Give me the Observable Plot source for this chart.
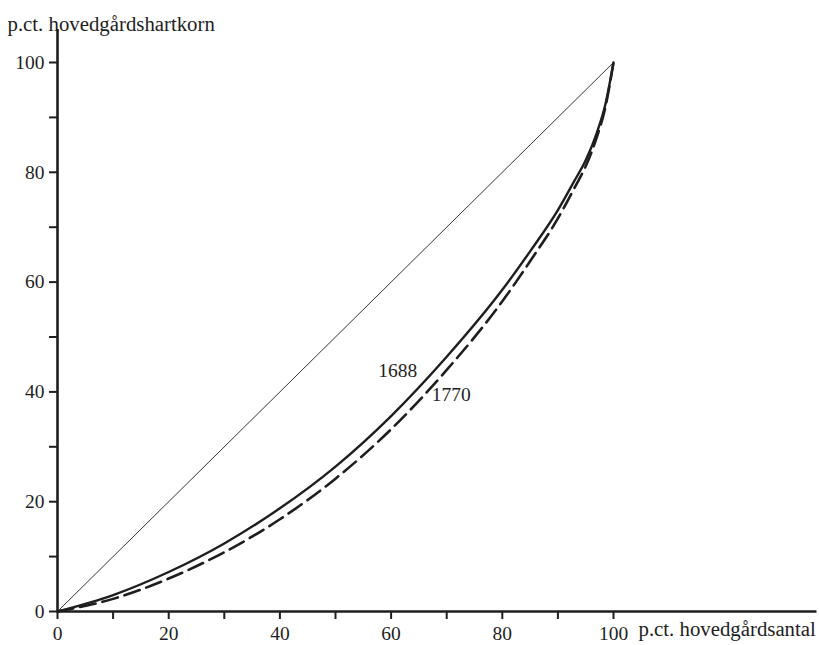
<!DOCTYPE html>
<html>
<head>
<meta charset="utf-8">
<script src="https://cdn.jsdelivr.net/npm/d3@7"></script>
<script src="https://cdn.jsdelivr.net/npm/@observablehq/plot@0.6"></script>
<style>
  html, body { margin: 0; padding: 0; background: #fff; }
</style>
</head>
<body>
<div id="chart"></div>
<script>
// Cumulative share of manors (x) vs cumulative share of hartkorn (y)
const xShare    = [0, 10, 20, 30, 40, 50, 60, 70, 80, 85, 90, 93, 95, 97, 98.5, 100];
const y1688     = [0, 3.0, 7.2, 12.4, 18.8, 26.4, 35.6, 46.4, 58.6, 65.6, 73.1, 78.5, 82.2, 87.2, 92.2, 100];
const y1770     = [0, 2.3, 6.0, 10.8, 16.8, 24.2, 33.2, 44.0, 56.5, 63.8, 71.6, 77.2, 81.1, 86.4, 91.7, 100];
const equality  = [0, 100];
const tickVals  = [0, 10, 20, 30, 40, 50, 60, 70, 80, 90, 100];
const seriesLabels = ["1688", "1770"];
const labelX = [61.2, 70.8];
const labelY = [43.9, 39.4];
const xTitle = "p.ct. hovedgårdsantal";
const yTitle = "p.ct. hovedgårdshartkorn";

const s1688 = xShare.map((x, i) => ({x, y: y1688[i]}));
const s1770 = xShare.map((x, i) => ({x, y: y1770[i]}));
const diag = equality.map(v => ({x: v, y: v}));
const labels = seriesLabels.map((t, i) => ({t, x: labelX[i], y: labelY[i]}));

const ink = "#1e1e1e";

const chart = Plot.plot({
  width: 819,
  height: 645,
  marginLeft: 57,
  marginRight: 206,
  marginTop: 62,
  marginBottom: 34,
  x: {domain: [0, 100], range: [57, 613]},
  y: {domain: [0, 100], range: [611, 62]},
  style: {fontFamily: "'Liberation Serif', 'DejaVu Serif', serif", fontSize: "19.5px", color: ink, background: "#fff"},
  marks: [
    Plot.axisX({ticks: tickVals, tickSize: 8, tickPadding: 7, strokeWidth: 2,
      tickFormat: d => d % 20 === 0 ? String(d) : "", label: null}),
    Plot.axisY({ticks: tickVals, tickSize: 8, tickPadding: 5, strokeWidth: 2,
      tickFormat: d => d % 20 === 0 ? String(d) : "", label: null}),
    Plot.line(diag, {x: "x", y: "y", stroke: ink, strokeWidth: 0.9}),
    Plot.line(s1770, {x: "x", y: "y", stroke: ink, strokeWidth: 2.6, curve: "monotone-x",
      strokeDasharray: "16,7"}),
    Plot.line(s1688, {x: "x", y: "y", stroke: ink, strokeWidth: 2.4, curve: "monotone-x"}),
    Plot.ruleY([0], {x1: 0, x2: 136.6, stroke: ink, strokeWidth: 2.6}),
    Plot.ruleX([0], {y1: 0, y2: 106, stroke: ink, strokeWidth: 2.6}),
    Plot.text(labels, {x: "x", y: "y", text: "t", fill: ink}),
    Plot.text([yTitle], {frameAnchor: "top-left", dx: -50, dy: -46, textAnchor: "start", fill: ink, fontSize: 20.8}),
    Plot.text([xTitle], {frameAnchor: "bottom-right", dx: 25, dy: 24, textAnchor: "start", fill: ink, fontSize: 20.8})
  ]
});
document.getElementById("chart").appendChild(chart);
</script>
</body>
</html>
